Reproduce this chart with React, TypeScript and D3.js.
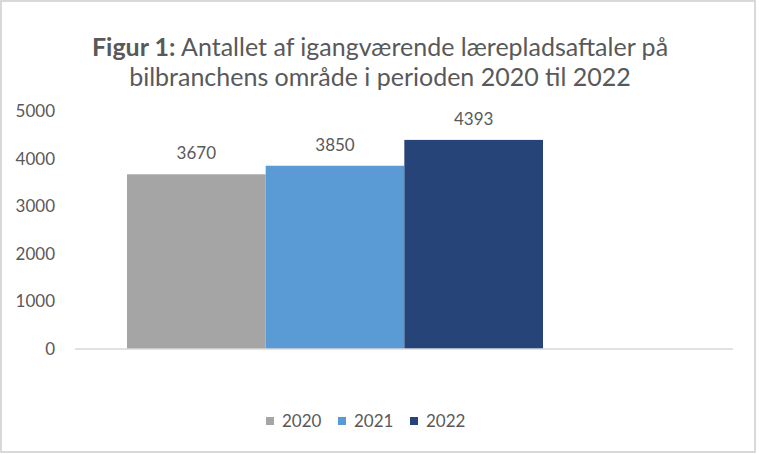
import React, { useEffect, useRef } from 'react';
import * as d3 from 'd3';

const series = ['2020', '2021', '2022'];
const values = [3670, 3850, 4393];
const colors = ['#a5a5a5', '#5b9bd5', '#264478'];
const yTicks = [0, 1000, 2000, 3000, 4000, 5000];
const titleBold = 'Figur 1:';
const titleRest = ' Antallet af igangværende lærepladsaftaler på';
const titleLine2 = 'bilbranchens område i perioden 2020 til 2022';

const WIDTH = 759;
const HEIGHT = 454;
const FONT = 'Lato, "Open Sans", sans-serif';
const TEXT = '#595959';

const App: React.FC = () => {
    const svgRef = useRef<SVGSVGElement>(null);

    useEffect(() => {
        if (!svgRef.current) return;
        const svg = d3.select(svgRef.current);
        svg.selectAll('*').remove();

        svg.append('rect')
            .attr('x', 1).attr('y', 1)
            .attr('width', WIDTH - 5).attr('height', HEIGHT - 3)
            .attr('fill', '#fff')
            .attr('stroke', '#d9d9d9')
            .attr('stroke-width', 2);

        const yScale = d3.scaleLinear().domain([0, 5000]).range([349, 111]);
        const xScale = d3.scaleBand<string>().domain(series).range([127, 543]).paddingInner(0);

        // title
        const title = svg.append('g')
            .attr('font-family', FONT)
            .attr('fill', TEXT)
            .attr('font-size', 25)
            .attr('text-anchor', 'middle');
        const t1 = title.append('text').attr('x', 380).attr('y', 56);
        t1.append('tspan').attr('font-weight', 'bold').text(titleBold);
        t1.append('tspan').text(titleRest);
        title.append('text').attr('x', 380).attr('y', 86).text(titleLine2);

        // y axis labels
        svg.append('g')
            .selectAll('text')
            .data(yTicks)
            .join('text')
            .attr('x', 55)
            .attr('y', d => yScale(d))
            .attr('dy', '0.35em')
            .attr('text-anchor', 'end')
            .attr('font-family', FONT)
            .attr('font-size', 17)
            .attr('fill', TEXT)
            .text(d => d);

        // bars
        svg.append('g')
            .selectAll('rect')
            .data(values)
            .join('rect')
            .attr('x', (_, i) => xScale(series[i])!)
            .attr('y', d => yScale(d))
            .attr('width', xScale.bandwidth())
            .attr('height', d => yScale(0) - yScale(d))
            .attr('fill', (_, i) => colors[i]);

        // baseline
        svg.append('line')
            .attr('x1', 75).attr('x2', 733)
            .attr('y1', yScale(0)).attr('y2', yScale(0))
            .attr('stroke', '#d9d9d9')
            .attr('stroke-width', 1.5);

        // data labels
        svg.append('g')
            .selectAll('text')
            .data(values)
            .join('text')
            .attr('x', (_, i) => xScale(series[i])! + xScale.bandwidth() / 2)
            .attr('y', d => yScale(d) - 21)
            .attr('dy', '0.35em')
            .attr('text-anchor', 'middle')
            .attr('font-family', FONT)
            .attr('font-size', 17)
            .attr('fill', TEXT)
            .text(d => d);

        // legend
        const legend = svg.append('g')
            .selectAll('g')
            .data(series)
            .join('g')
            .attr('transform', (_, i) => `translate(${266 + i * 72}, 421)`);
        legend.append('rect')
            .attr('x', 0).attr('y', -4)
            .attr('width', 8).attr('height', 8)
            .attr('fill', (_, i) => colors[i]);
        legend.append('text')
            .attr('x', 16)
            .attr('dy', '0.35em')
            .attr('font-family', FONT)
            .attr('font-size', 17)
            .attr('fill', TEXT)
            .text(d => d);
    }, []);

    return (
        <div style={{ position: 'absolute', left: 0, top: 0 }}>
            <svg ref={svgRef} width={WIDTH} height={HEIGHT} style={{ display: 'block' }} />
        </div>
    );
};

export default App;
